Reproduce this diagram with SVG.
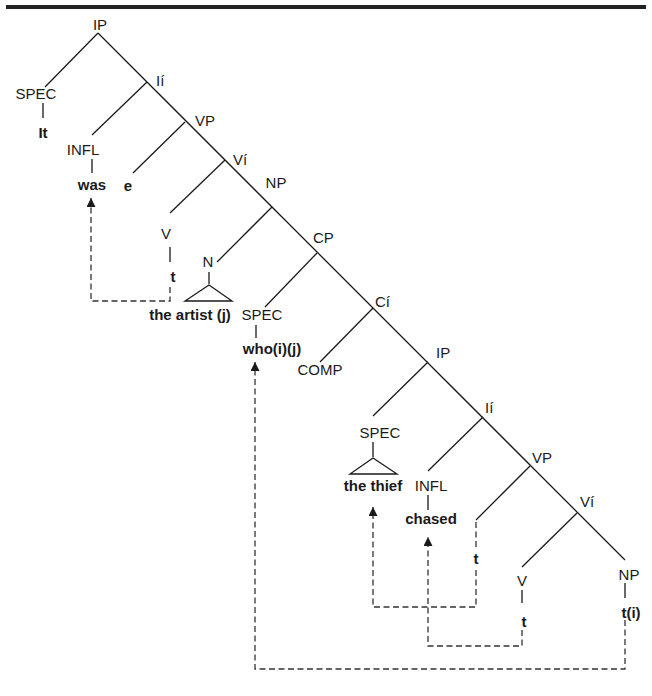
<svg xmlns="http://www.w3.org/2000/svg" width="652" height="696" viewBox="0 0 652 696">
<style>
text{font-family:"Liberation Sans",Arial,sans-serif;font-size:15px;fill:#1a1a1a}
.b{font-weight:bold}
.m{text-anchor:middle}
.ln{stroke:#1a1a1a;stroke-width:1.3;fill:none}
.ds{stroke:#333;stroke-width:1.3;fill:none;stroke-dasharray:6 3.5}
.tri{stroke:#1a1a1a;stroke-width:1.3;fill:none}
</style>
<defs>
<marker id="ah" viewBox="0 0 10 10" refX="10" refY="5" markerWidth="9" markerHeight="9" markerUnits="userSpaceOnUse" orient="auto">
<path d="M0,0 L10,5 L0,10 Z" fill="#1a1a1a"/>
</marker>
</defs>
<rect x="6" y="5" width="640" height="4" fill="#222"/>
<g id="connectors">
<line class="ln" x1="98" y1="33" x2="625" y2="560"/>
<line class="ln" x1="98" y1="33" x2="45" y2="87"/>
<line class="ln" x1="43" y1="103" x2="43" y2="118"/>
<line class="ln" x1="147" y1="82" x2="92" y2="135"/>
<line class="ln" x1="92" y1="159" x2="92" y2="173"/>
<line class="ln" x1="185" y1="122" x2="133" y2="173"/>
<line class="ln" x1="225" y1="160" x2="170" y2="213"/>
<line class="ln" x1="170" y1="247" x2="170" y2="262"/>
<line class="ln" x1="272" y1="207" x2="217" y2="262"/>
<line class="ln" x1="209" y1="272" x2="209" y2="284"/>
<polygon class="tri" points="209,285 185,301 232,301"/>
<line class="ln" x1="317" y1="253" x2="265" y2="307"/>
<line class="ln" x1="256" y1="325" x2="256" y2="338"/>
<line class="ln" x1="373" y1="308" x2="320" y2="362"/>
<line class="ln" x1="428" y1="362" x2="373" y2="416"/>
<line class="ln" x1="373" y1="442" x2="373" y2="457"/>
<polygon class="tri" points="373,458 350,474 397,474"/>
<line class="ln" x1="483" y1="417" x2="428" y2="471"/>
<line class="ln" x1="428" y1="495" x2="428" y2="510"/>
<line class="ln" x1="530" y1="466" x2="476" y2="520"/>
<line class="ln" x1="577" y1="513" x2="522" y2="567"/>
<line class="ln" x1="522" y1="590" x2="522" y2="603"/>
<line class="ln" x1="625" y1="583" x2="625" y2="598"/>
<polyline class="ds" points="170,287 170,301 91,301 91,198" marker-end="url(#ah)"/>
<polyline class="ds" points="625,620 625,669 255,669 255,362" marker-end="url(#ah)"/>
<line class="ds" x1="476" y1="522" x2="476" y2="547"/>
<polyline class="ds" points="476,570 476,607 373,607 373,507" marker-end="url(#ah)"/>
<polyline class="ds" points="522,630 522,646 428,646 428,537" marker-end="url(#ah)"/>
</g>
<g id="n-ip"><text class="m" x="100" y="30">IP</text></g>
<g id="n-spec1"><text class="m" x="36" y="99">SPEC</text></g>
<g id="n-it"><text class="m b" x="43" y="138">It</text></g>
<g id="n-ibar1"><text x="156" y="86">Ií</text></g>
<g id="n-infl1"><text class="m" x="83" y="155">INFL</text></g>
<g id="n-was"><text class="m b" x="92" y="190">was</text></g>
<g id="n-vp1"><text x="195" y="126">VP</text></g>
<g id="n-e"><text class="m b" x="128" y="191">e</text></g>
<g id="n-vbar1"><text x="233" y="165">Ví</text></g>
<g id="n-v1"><text class="m" x="166" y="239">V</text></g>
<g id="n-t1"><text class="m b" x="173" y="282">t</text></g>
<g id="n-np1"><text class="m" x="276" y="188">NP</text></g>
<g id="n-n"><text class="m" x="208" y="267">N</text></g>
<g id="n-artist"><text class="m b" x="190" y="320">the artist (j)</text></g>
<g id="n-cp"><text x="313" y="243">CP</text></g>
<g id="n-spec2"><text class="m" x="262" y="320">SPEC</text></g>
<g id="n-who"><text class="m b" x="272" y="354">who(i)(j)</text></g>
<g id="n-cbar"><text x="375" y="307">Cí</text></g>
<g id="n-comp"><text class="m" x="320" y="375">COMP</text></g>
<g id="n-ip2"><text x="436" y="358">IP</text></g>
<g id="n-spec3"><text class="m" x="380" y="438">SPEC</text></g>
<g id="n-thief"><text class="m b" x="373" y="491">the thief</text></g>
<g id="n-ibar2"><text x="485" y="413">Ií</text></g>
<g id="n-infl2"><text class="m" x="431" y="491">INFL</text></g>
<g id="n-chased"><text class="m b" x="431" y="524">chased</text></g>
<g id="n-vp2"><text x="532" y="463">VP</text></g>
<g id="n-t2"><text class="m b" x="476" y="564">t</text></g>
<g id="n-vbar2"><text x="580" y="507">Ví</text></g>
<g id="n-v2"><text class="m" x="522" y="586">V</text></g>
<g id="n-t3"><text class="m b" x="524" y="627">t</text></g>
<g id="n-np2"><text class="m" x="629" y="580">NP</text></g>
<g id="n-ti"><text class="m b" x="631" y="618">t(i)</text></g>
</svg>
